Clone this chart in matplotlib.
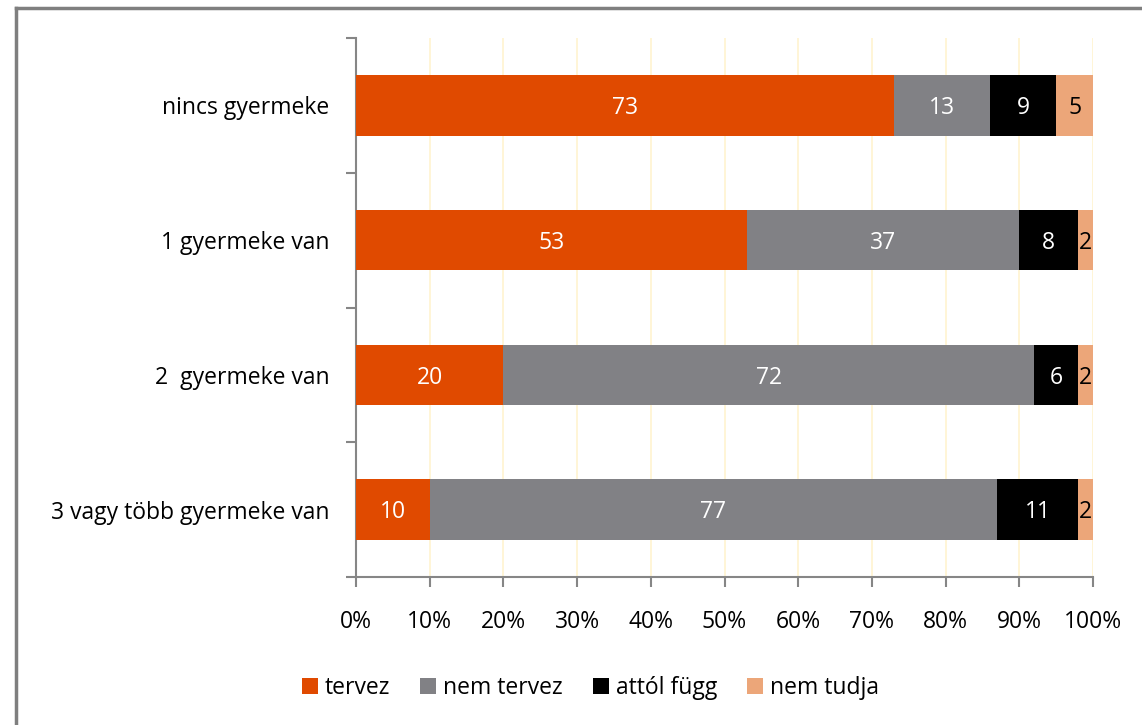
import numpy as np
import matplotlib.pyplot as plt
from matplotlib.lines import Line2D
from matplotlib.patches import Patch

plt.rcParams['font.family'] = ['Open Sans', 'DejaVu Sans']

# --- data ---
categories = ['nincs gyermeke', '1 gyermeke van', '2  gyermeke van', '3 vagy több gyermeke van']
series = ['tervez', 'nem tervez', 'attól függ', 'nem tudja']
tervez = [73, 53, 20, 10]
nem_tervez = [13, 37, 72, 77]
attol_fugg = [9, 8, 6, 11]
nem_tudja = [5, 2, 2, 2]
xticks = [0, 10, 20, 30, 40, 50, 60, 70, 80, 90, 100]

colors = ['#E04A00', '#818185', '#000000', '#ECA679']
text_colors = ['white', 'white', 'white', 'black']
fs = 16.5

fig = plt.figure(figsize=(11.42, 7.25), dpi=100)
ax = fig.add_axes([356 / 1142, 1 - 577 / 725, (1093 - 356) / 1142, (577 - 38) / 725])

y = np.arange(len(categories))
left = np.zeros(len(categories))
for vals, col, tcol, name in zip([tervez, nem_tervez, attol_fugg, nem_tudja], colors, text_colors, series):
    vals = np.array(vals, dtype=float)
    ax.barh(y, vals, left=left, height=0.45, color=col, label=name, zorder=3)
    for yi, l, v in zip(y, left, vals):
        ax.text(l + v / 2, yi + 0.02, f'{int(v)}', ha='center', va='center',
                color=tcol, fontsize=fs, zorder=4)
    left += vals

ax.set_xlim(0, 100)
ax.set_ylim(len(categories) - 0.5, -0.5)
ax.set_xticks(xticks)
ax.set_xticklabels([f'{t}%' for t in xticks], fontsize=fs)
ax.set_yticks(y)
ax.set_yticklabels(categories, fontsize=fs)
ax.set_yticks(np.arange(len(categories) + 1) - 0.5, minor=True)

ax.tick_params(axis='y', which='major', length=0, pad=19)
ax.tick_params(axis='y', which='minor', length=7, width=1.5, color='#868686', direction='out')
ax.tick_params(axis='x', length=7, width=1.5, color='#868686', direction='out', pad=17)

for s in ['top', 'right']:
    ax.spines[s].set_visible(False)
for s in ['left', 'bottom']:
    ax.spines[s].set_color('#868686')
    ax.spines[s].set_linewidth(1.5)

ax.grid(axis='x', color='#FFF3CF', linewidth=1.2, zorder=0)
ax.set_axisbelow(True)

handles = [Patch(facecolor=c, edgecolor='none') for c in colors]
fig.legend(handles, series, loc='center', bbox_to_anchor=(0.517, 1 - 688 / 725), ncol=4,
           frameon=False, fontsize=fs, handlelength=0.7, handleheight=0.7,
           handletextpad=0.3, columnspacing=1.3)

# outer frame (left and top only visible)
fig.add_artist(Line2D([16 / 1142, 16 / 1142], [0, 1 - 7.5 / 725], transform=fig.transFigure,
                      color='#7F7F7F', linewidth=2.5))
fig.add_artist(Line2D([16 / 1142, 1], [1 - 7.5 / 725, 1 - 7.5 / 725], transform=fig.transFigure,
                      color='#7F7F7F', linewidth=2.5))

fig.savefig('out.png', dpi=100)
